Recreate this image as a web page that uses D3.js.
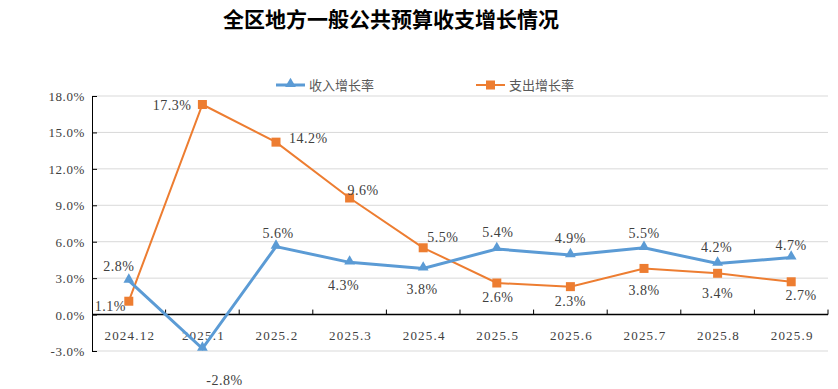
<!DOCTYPE html>
<html>
<head>
<meta charset="utf-8">
<script src="https://cdn.jsdelivr.net/npm/d3@7"></script>
<style>
  body { margin: 0; background: #fff; }
  svg text { font-family: "Liberation Serif", "Noto Sans CJK SC", serif; }
</style>
</head>
<body>
<svg id="chart" width="838" height="389"></svg>
<script>
// chart data
var categories = ['2024.12', '2025.1', '2025.2', '2025.3', '2025.4', '2025.5', '2025.6', '2025.7', '2025.8', '2025.9'];
var incomeGrowth = [2.8, -2.8, 5.6, 4.3, 3.8, 5.4, 4.9, 5.5, 4.2, 4.7];
var spendGrowth = [1.1, 17.3, 14.2, 9.6, 5.5, 2.6, 2.3, 3.8, 3.4, 2.7];
var yTicks = [-3, 0, 3, 6, 9, 12, 15, 18];
var seriesNames = ['收入增长率', '支出增长率'];

// label placement offsets [dx, dy, anchor]
var incomeLabelPos = [[-10, -10, 'middle'], [22, 36, 'middle'], [2, -9, 'middle'], [-6, 28, 'middle'], [-1, 26, 'middle'],
                      [1, -12, 'middle'], [0, -12, 'middle'], [0, -10, 'middle'], [-1, -12, 'middle'], [0, -8, 'middle']];
var spendLabelPos = [[-3, 10, 'end'], [-11, 5, 'end'], [13, 1, 'start'], [-2, -3, 'start'], [4, -6, 'start'],
                     [1, 19, 'middle'], [0, 19, 'middle'], [0, 27, 'middle'], [0, 25, 'middle'], [10, 18, 'middle']];

var svg = d3.select('#chart');
var plotLeft = 92, plotRight = 828, plotTop = 96, plotBottom = 351;

var x = d3.scaleBand().domain(categories).range([plotLeft, plotRight]);
var y = d3.scaleLinear().domain([-3, 18]).range([plotBottom, plotTop]);

function fmt(v) { return v.toFixed(1) + '%'; }

// title
svg.append('text')
    .attr('x', 391).attr('y', 27)
    .attr('text-anchor', 'middle')
    .style('font-family', '"Noto Sans CJK SC", sans-serif')
    .style('font-weight', 'bold')
    .style('font-size', '21px')
    .attr('fill', '#000')
    .text('全区地方一般公共预算收支增长情况');

// grid
svg.append('g').selectAll('line')
    .data(yTicks.filter(function(d) { return d != 0; }))
    .enter().append('line')
    .attr('x1', plotLeft).attr('x2', plotRight)
    .attr('y1', function(d) { return y(d); })
    .attr('y2', function(d) { return y(d); })
    .attr('stroke', '#d9d9d9').attr('stroke-width', 1);

// y axis
var yAxis = svg.append('g')
    .attr('transform', 'translate(' + plotLeft + ',0)')
    .call(d3.axisRight(y).tickValues(yTicks).tickSize(5).tickFormat(''));
yAxis.select('.domain').attr('stroke', '#000').attr('d', 'M0.5,' + plotTop + 'V' + plotBottom);
yAxis.selectAll('.tick line').attr('stroke', '#000');

svg.append('g').selectAll('text')
    .data(yTicks)
    .enter().append('text')
    .attr('x', plotLeft - 7)
    .attr('y', function(d) { return y(d) + 5; })
    .attr('text-anchor', 'end')
    .style('font-size', '13px')
    .style('letter-spacing', '0.6px')
    .attr('fill', '#404040')
    .text(fmt);

// x axis at zero
var xAxis = svg.append('g')
    .attr('transform', 'translate(0,' + y(0) + ')');
xAxis.append('line')
    .attr('x1', plotLeft).attr('x2', plotRight)
    .attr('stroke', '#000').attr('stroke-width', 1.5);
xAxis.selectAll('.tk')
    .data(categories)
    .enter().append('line')
    .attr('class', 'tk')
    .attr('x1', function(d) { return x(d) + x.bandwidth(); })
    .attr('x2', function(d) { return x(d) + x.bandwidth(); })
    .attr('y1', 0).attr('y2', -5)
    .attr('stroke', '#000');
xAxis.selectAll('text')
    .data(categories)
    .enter().append('text')
    .attr('x', function(d) { return x(d) + x.bandwidth() / 2 + 1; })
    .attr('y', 25)
    .attr('text-anchor', 'middle')
    .style('font-size', '13px')
    .style('letter-spacing', '1.2px')
    .attr('fill', '#404040')
    .text(function(d) { return d; });

function cx(i) { return x(categories[i]) + x.bandwidth() / 2; }

var line = d3.line()
    .x(function(d, i) { return cx(i); })
    .y(function(d) { return y(d); });

var blue = '#5b9bd5', orange = '#ed7d31';

// spend series
svg.append('path').datum(spendGrowth)
    .attr('d', line).attr('fill', 'none')
    .attr('stroke', orange).attr('stroke-width', 2);
svg.append('g').selectAll('rect')
    .data(spendGrowth)
    .enter().append('rect')
    .attr('x', function(d, i) { return cx(i) - 4.5; })
    .attr('y', function(d) { return y(d) - 4.5; })
    .attr('width', 9).attr('height', 9)
    .attr('fill', orange);

// income series
svg.append('path').datum(incomeGrowth)
    .attr('d', line).attr('fill', 'none')
    .attr('stroke', blue).attr('stroke-width', 3);
var tri = d3.symbol().type(d3.symbolTriangle).size(50);
svg.append('g').selectAll('path')
    .data(incomeGrowth)
    .enter().append('path')
    .attr('d', tri)
    .attr('transform', function(d, i) { return 'translate(' + cx(i) + ',' + (y(d) - 1) + ')'; })
    .attr('fill', blue);

// data labels
function labels(values, pos) {
    svg.append('g').selectAll('text')
        .data(values)
        .enter().append('text')
        .attr('x', function(d, i) { return cx(i) + pos[i][0]; })
        .attr('y', function(d, i) { return y(d) + pos[i][1]; })
        .attr('text-anchor', function(d, i) { return pos[i][2]; })
        .style('font-size', '14px')
        .style('letter-spacing', '0.5px')
        .attr('fill', '#404040')
        .text(fmt);
}
labels(incomeGrowth, incomeLabelPos);
labels(spendGrowth, spendLabelPos);

// legend
var legend = svg.append('g');
legend.append('line').attr('x1', 276).attr('x2', 305).attr('y1', 85).attr('y2', 85)
    .attr('stroke', blue).attr('stroke-width', 3);
legend.append('path').attr('d', tri)
    .attr('transform', 'translate(290.5,84)').attr('fill', blue);
legend.append('line').attr('x1', 476).attr('x2', 505).attr('y1', 85).attr('y2', 85)
    .attr('stroke', orange).attr('stroke-width', 2);
legend.append('rect').attr('x', 486).attr('y', 80.5).attr('width', 9).attr('height', 9)
    .attr('fill', orange);
legend.selectAll('text')
    .data(seriesNames)
    .enter().append('text')
    .attr('x', function(d, i) { return i == 0 ? 309 : 509; })
    .attr('y', 90)
    .style('font-family', '"Noto Sans CJK SC", sans-serif')
    .style('font-size', '13px')
    .attr('fill', '#595959')
    .text(function(d) { return d; });
</script>
</body>
</html>
